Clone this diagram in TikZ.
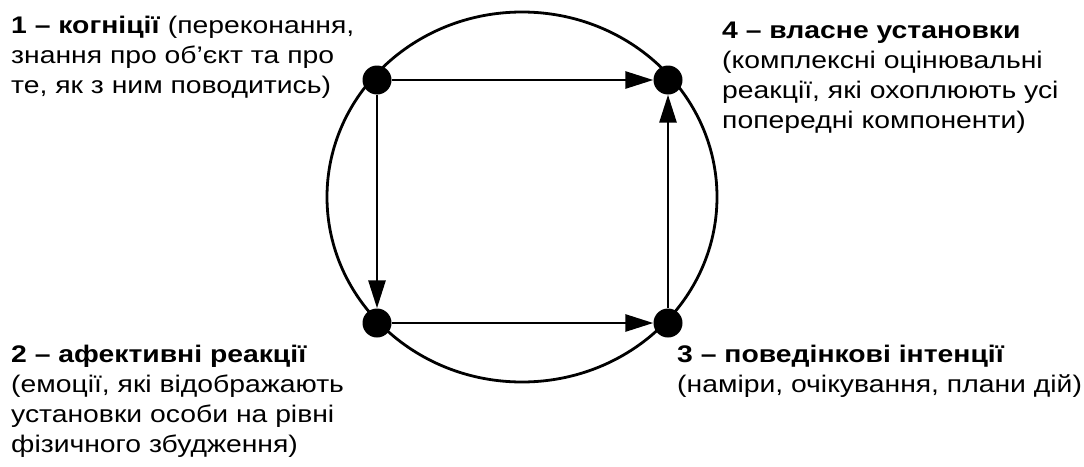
\documentclass[tikz,border=0pt]{standalone}
\usepackage{fontspec}
\setmainfont[FakeStretch=1.18]{Liberation Sans}
\usetikzlibrary{arrows.meta}

\begin{document}
\begin{tikzpicture}[x=1pt, y=-1pt, >={Triangle[length=28pt,width=17pt]},
  dot/.style={circle, fill=black, inner sep=0pt, minimum size=29pt},
  link/.style={->, line width=2.8pt},
  lbl/.style={anchor=base west, align=left, inner sep=0pt,
    font=\fontsize{24}{30}\selectfont}]
\useasboundingbox (0,0) rectangle (1084,466);

% Outer ring
\draw[line width=2.8pt] (522,197) ellipse [x radius=195pt, y radius=185pt];

% Component points
\node[dot] (kog) at (377,80) {};
\node[dot] (vlas) at (668,80) {};
\node[dot] (afek) at (377,323) {};
\node[dot] (pov) at (668,323) {};

% Links
\draw[link] (kog) -- (vlas);
\draw[link] (kog) -- (afek);
\draw[link] (afek) -- (pov);
\draw[link] (pov) -- (vlas);

% Labels (anchored at the last line)
\node[lbl] (t1) at (11,93) {\textbf{1 – когніції} (переконання,\\знання про об’єкт та про\\те, як з ним поводитись)};
\node[lbl] (t4) at (722,128) {\textbf{4 – власне установки}\\(комплексні оцінювальні\\реакції, які охоплюють усі\\попередні компоненти)};
\node[lbl] (t2) at (11,452) {\textbf{2 – афективні реакції}\\(емоції, які відображають\\установки особи на рівні\\фізичного збудження)};
\node[lbl] (t3) at (677,392) {\textbf{3 – поведінкові інтенції}\\(наміри, очікування, плани дій)};
\end{tikzpicture}
\end{document}
